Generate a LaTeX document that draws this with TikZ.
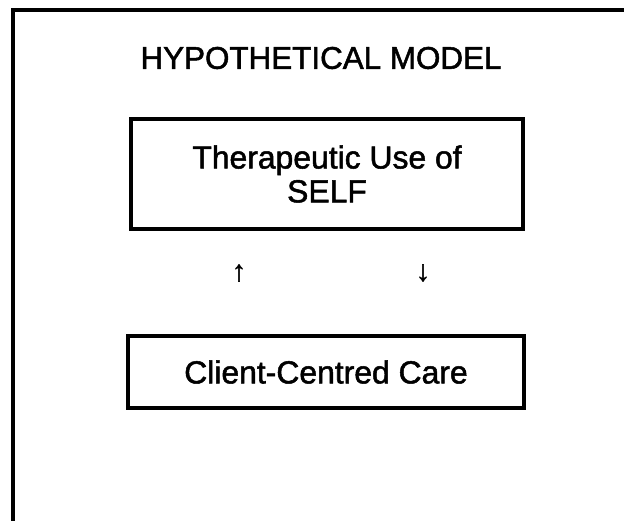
\documentclass[tikz,border=0pt]{standalone}
\usepackage{fontspec}
\setmainfont{Liberation Sans}
\newfontfamily\modelfont[FakeBold=1.6]{Liberation Sans}

\tikzset{every picture/.style={line width=3.2bp}}
\tikzset{modelbox/.style={draw, rectangle, inner sep=0pt, align=center, font=\modelfont\fontsize{32}{34}\selectfont}}

\begin{document}
\begin{tikzpicture}[x=1bp, y=-1bp]
\pgfmathsetmacro{\fw}{624}        \pgfmathsetmacro{\fh}{521}

\useasboundingbox (0,0) rectangle (\fw,\fh);

\draw (13,\fh) -- (13,10) -- (\fw,10);

\node[font=\modelfont\fontsize{31.5}{34}\selectfont] (title) at (321,58) {HYPOTHETICAL MODEL};

\node[modelbox, minimum width=392bp, minimum height=110bp] (self) at (327,174) {Therapeutic Use of\\SELF};
    \node[modelbox, minimum width=396bp, minimum height=72bp] (care) at (326,372) {Client-Centred Care};

\node[font=\modelfont\fontsize{29}{33}\selectfont] (up) at (239,273) {↑};
    \node[font=\modelfont\fontsize{29}{33}\selectfont] (down) at (423,273) {↓};

\end{tikzpicture}
\end{document}
